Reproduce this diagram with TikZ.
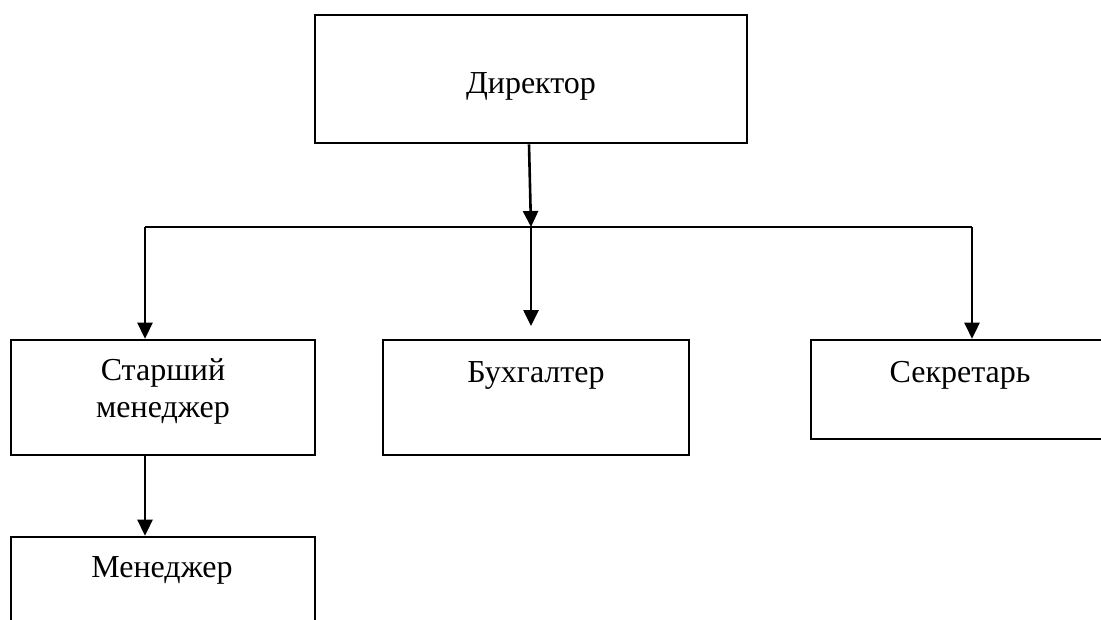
\documentclass[tikz,border=0pt]{standalone}
\usepackage{fontspec}
\setmainfont{Liberation Serif}
\usetikzlibrary{arrows.meta}
\begin{document}
\begin{tikzpicture}[x=1pt,y=-1pt,
  box/.style={draw=black,line width=2.6pt,rectangle,inner sep=0pt},
  lbl/.style={inner sep=0pt,anchor=base,font=\fontsize{32}{37}\selectfont,align=center},
  conn/.style={line width=2.6pt,-{Triangle[length=16pt,width=15pt]}},
  bus/.style={line width=2pt}]
\useasboundingbox (0,0) rectangle (1101,619);
\clip (0,0) rectangle (1101,619);
% boxes
\node[box,minimum width=432pt,minimum height=128pt] (dirbox) at (531,79) {};
\node[box,minimum width=304pt,minimum height=115pt] (smbox) at (163,397.5) {};
\node[box,minimum width=306pt,minimum height=115pt] (buhbox) at (536,397.5) {};
\node[box,minimum width=320pt,minimum height=99pt] (secbox) at (971,389.5) {};
\node[box,minimum width=304pt,minimum height=120pt] (menbox) at (163,597) {};
% labels
\node[lbl] (dir) at (531,93) {Директор};
\node[lbl] (sm) at (163,380) {Старший};
\node[lbl] (sm2) at (163,417) {менеджер};
\node[lbl] (buh) at (536,382) {Бухгалтер};
\node[lbl] (sec) at (960,382) {Секретарь};
\node[lbl] (men) at (162,577) {Менеджер};
% connectors
\coordinate (j) at (531,227);
\coordinate (hl) at (145,227);
\coordinate (hr) at (972,227);
\coordinate (buhtip) at (531,326);
\draw[bus] (hl) -- (hr);
\draw[conn] ([xshift=-2pt]dirbox.south) -- (j);
\draw[conn] (hl) -- (hl |- smbox.north);
\draw[conn] (j) -- (buhtip);
\draw[conn] (hr) -- (hr |- secbox.north);
\draw[conn] (hl |- smbox.south) -- (hl |- menbox.north);
\end{tikzpicture}
\end{document}
